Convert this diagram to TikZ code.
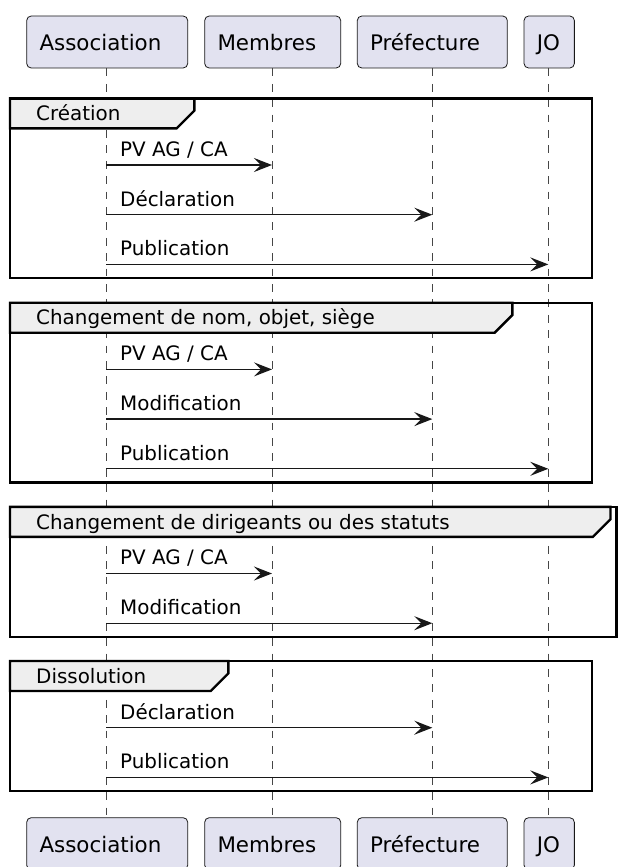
\documentclass[tikz,border=0pt]{standalone}
\usepackage{fontspec}
\setmainfont{DejaVu Sans}
\usetikzlibrary{arrows.meta}
\definecolor{partfill}{HTML}{E2E2F0}
\definecolor{tabfill}{HTML}{EEEEEE}
\definecolor{ink}{HTML}{181818}
\tikzset{
  partbox/.style={draw=ink, line width=0.8pt, fill=partfill, rounded corners=4.5pt,
    minimum height=52pt, inner sep=0pt},
  parttext/.style={anchor=base west, inner sep=0pt, font=\fontsize{21.4}{25}\selectfont},
  lifeline/.style={draw=ink!80, line width=0.9pt, dash pattern=on 7.7pt off 7.7pt},
  framebox/.style={draw=black, line width=2.4pt},
  tabbox/.style={draw=black, line width=2.4pt, fill=tabfill, line join=miter},
  tablabel/.style={anchor=base west, inner sep=0pt, font=\fontsize{19.9}{23}\selectfont},
  msglabel/.style={anchor=base west, inner sep=0pt, font=\fontsize{19.9}{23}\selectfont},
  msgline/.style={draw=ink, line width=1.3pt, -{Stealth[length=18pt, width=14pt, inset=7pt]}},
}
% name, center x, width, label
\newcommand\partnodes[4]{%
  \node[partbox, minimum width=#3] (#1T) at (#2,42) {};
  \node[parttext] (#1Tt) at ([xshift=13pt,yshift=-8.7pt]#1T.west) {#4};
  \node[partbox, minimum width=#3] (#1B) at (#2,843.7) {};
  \node[parttext] (#1Bt) at ([xshift=13pt,yshift=-8.9pt]#1B.west) {#4};
}
% name, y, from-x, to-x, label
\newcommand\msgarrow[5]{%
  \coordinate (#1s) at (#3,#2);
  \coordinate (#1e) at (#4,#2);
  \draw[msgline] (#1s) -- (#1e);
  \node[msglabel] (#1l) at (120,#2-8.6) {#5};
}
% name, top, bottom, right, tabright, label
\newcommand\groupframe[6]{%
  \draw[tabbox] (10,#2) -- (#5,#2) -- (#5,#2+12.4) -- (#5-17.6,#2+30) -- (10,#2+30) -- cycle;
  \node[tablabel] (#1l) at (36,#2+22.2) {#6};
  \draw[framebox] (10,#2) rectangle (#4,#3);
}
\begin{document}
\begin{tikzpicture}[x=1pt,y=-1pt]
\useasboundingbox (0,0) rectangle (618,867);
\fill[white] (0,0) rectangle (618,867);
% participants
\partnodes{a}{107.2}{161pt}{Association}
\partnodes{m}{272.7}{136pt}{Membres}
\partnodes{p}{432.3}{150pt}{Préfecture}
\partnodes{j}{549.2}{50.3pt}{JO}
% lifelines
\draw[lifeline] (aT.south -| 106,0) -- (aB.north -| 106,0);
\draw[lifeline] (mT.south -| 272,0) -- (mB.north -| 272,0);
\draw[lifeline] (pT.south -| 432.3,0) -- (pB.north -| 432.3,0);
\draw[lifeline] (jT.south -| 548.3,0) -- (jB.north -| 548.3,0);
% groups
\groupframe{g1}{98.3}{278}{592}{194.3}{Création}
\groupframe{g2}{302.7}{482.4}{592}{512.3}{Changement de nom, objet, siège}
\groupframe{g3}{506.8}{636.8}{616.5}{610.5}{Changement de dirigeants ou des statuts}
\groupframe{g4}{661}{791}{592}{228.3}{Dissolution}
% messages
\msgarrow{a1}{165}{106}{272}{PV AG / CA}
\msgarrow{a2}{214.7}{106}{432.3}{Déclaration}
\msgarrow{a3}{264.4}{106}{548.3}{Publication}
\msgarrow{b1}{369.4}{106}{272}{PV AG / CA}
\msgarrow{b2}{419.1}{106}{432.3}{Modification}
\msgarrow{b3}{468.8}{106}{548.3}{Publication}
\msgarrow{c1}{573.5}{106}{272}{PV AG / CA}
\msgarrow{c2}{623.2}{106}{432.3}{Modification}
\msgarrow{d1}{727.7}{106}{432.3}{Déclaration}
\msgarrow{d2}{777.4}{106}{548.3}{Publication}
\end{tikzpicture}
\end{document}
